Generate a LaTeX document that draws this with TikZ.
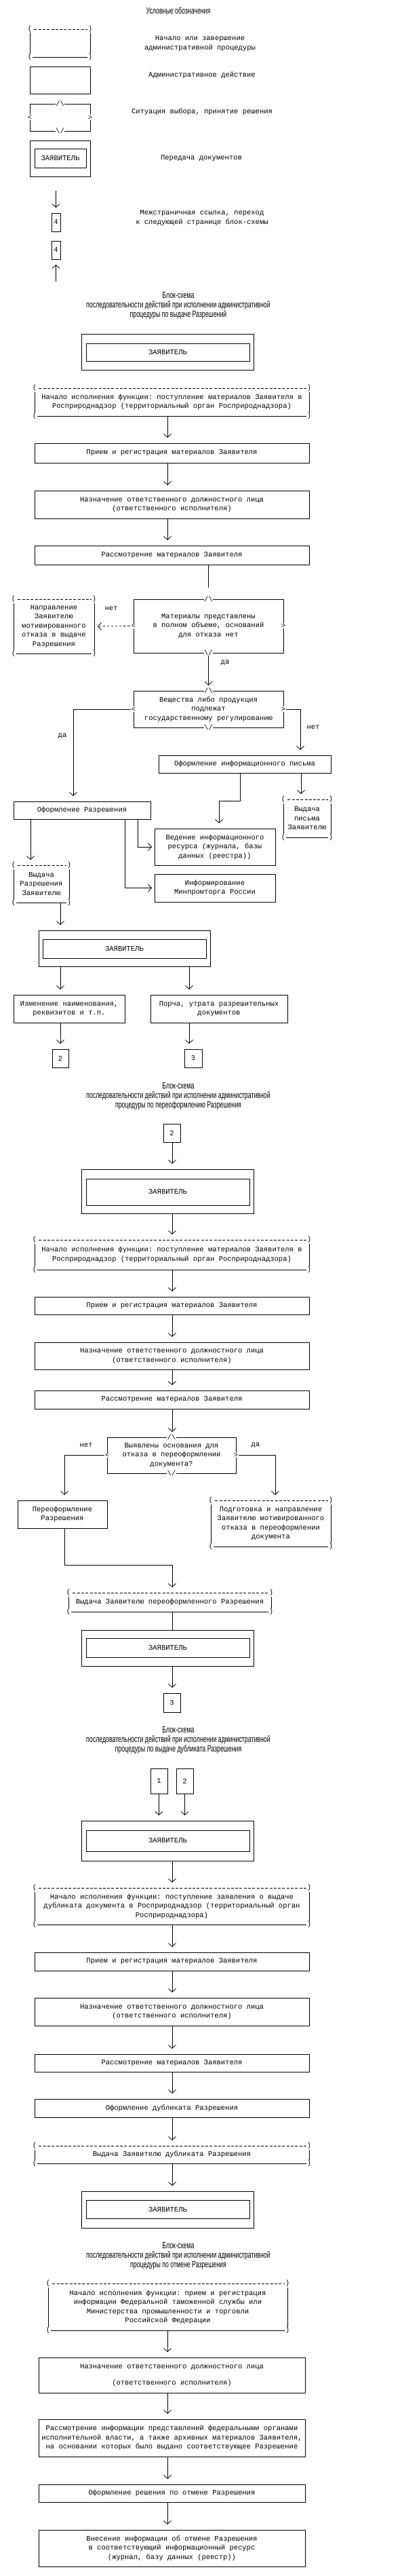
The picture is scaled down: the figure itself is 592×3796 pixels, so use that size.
\documentclass[tikz,border=0pt]{standalone}
\usepackage{fontspec}
\setmainfont{Liberation Serif}
\setmonofont{Liberation Mono}
\newfontfamily\ttlfont[FakeStretch=0.66]{Liberation Sans}
\usetikzlibrary{arrows.meta}
\newcommand{\mono}{\ttfamily\fontsize{10.5}{13.5}\selectfont}
\newcommand{\ttl}{\ttlfont\fontsize{13.3}{14}\selectfont}
\newcommand{\bs}{\textbackslash}

\begin{document}
\begin{tikzpicture}[x=1pt,y=-1pt,line width=0.8pt,
  sz/.style 2 args={minimum width=#1,minimum height=#2},
  actbox/.style={draw,rectangle,inner sep=0pt,outer sep=0pt,align=center,font=\mono},
  termbox/.style={rectangle,inner sep=0pt,outer sep=0pt,align=center,font=\mono},
  qbox/.style={draw,rectangle,inner sep=0pt,outer sep=0pt,align=center,font=\mono},
  docout/.style={draw,rectangle,inner sep=0pt,outer sep=0pt},
  docin/.style={draw,rectangle,inner sep=0pt,outer sep=0pt,font=\mono},
  refbox/.style={draw,rectangle,inner sep=0pt,outer sep=0pt,font=\mono},
  glyph/.style={fill=white,inner sep=0.6pt,font=\mono},
  lbl/.style={inner sep=0pt,align=center,font=\mono},
  ttlnode/.style={inner sep=0pt,align=center,font=\ttl},
  arr/.style={-{Straight Barb[length=5pt,width=11pt]},shorten >=8pt}]
\fill[white] (0,0) rectangle (592,3796);
\useasboundingbox (0,0) rectangle (592,3796);

% legend
\node[ttlnode] (lgtitle) at (263,16) {Условные обозначения};
\node[termbox,sz={89}{41}] (lgT) at (88.5,63.5) {};
\node[lbl] (lgTl) at (295,64) {Начало или завершение\\административной процедуры};
\node[actbox,sz={89}{40}] (lgA) at (88.5,118) {};
\node[lbl] (lgAl) at (298,111) {Административное действие};
\node[qbox,sz={89}{40}] (lgD) at (88.5,173) {};
\node[lbl] (lgDl) at (298,165) {Ситуация выбора, принятие решения};
\node[docout,sz={89}{53}] (lgZ) at (88.5,233.5) {};
\node[docin,sz={76}{28}] (lgZi) at (89,233) {ЗАЯВИТЕЛЬ};
\node[lbl] (lgZl) at (297,233) {Передача документов};
\node[refbox,sz={13}{27}] (lg4a) at (82.5,327.5) {4};
\node[refbox,sz={13}{27}] (lg4b) at (82.5,368.5) {4};
\node[lbl] (lg4l) at (298,321) {Межстраничная ссылка, переход\\к следующей странице блок-схемы};
\coordinate (lgp) at (82.5,281);
\coordinate (lgq) at (82.5,415);
\draw[arr] (lgp) -- (lg4a.north);
\draw[arr] (lgq) -- (lg4b.south);

% issue of permits
\node[ttlnode] (ttl1) at (263,450) {Блок-схема\\последовательности действий при исполнении административной\\процедуры по выдаче Разрешений};
\node[docout,sz={254}{53}] (z1) at (247,518.5) {};
\node[docin,sz={241}{26}] (z1i) at (247.5,519) {ЗАЯВИТЕЛЬ};
\node[termbox,sz={405}{41}] (n1) at (253.5,592.5) {Начало исполнения функции: поступление материалов Заявителя в\\Росприроднадзор (территориальный орган Росприроднадзора)};
\node[actbox,sz={405}{29}] (p1) at (253.5,667.5) {Прием и регистрация материалов Заявителя};
\node[actbox,sz={405}{41}] (a1) at (253.5,743.5) {Назначение ответственного должностного лица\\(ответственного исполнителя)};
\node[actbox,sz={405}{28}] (r1) at (253.5,818) {Рассмотрение материалов Заявителя};
\node[qbox,sz={221}{79}] (q1) at (307.5,922.5) {Материалы представлены\\в полном объеме, оснований\\для отказа нет};
\node[termbox,sz={119}{80}] (t1) at (79.5,923) {Направление\\Заявителю\\мотивированного\\отказа в выдаче\\Разрешения};
\node[qbox,sz={221}{54}] (q2) at (307.5,1045) {Вещества либо продукция\\подлежат\\государственному регулированию};
\node[actbox,sz={254}{26}] (inf) at (361,1126) {Оформление информационного письма};
\node[actbox,sz={202}{26}] (frm) at (121,1194) {Оформление Разрешения};
\node[termbox,sz={70}{56}] (vid) at (453,1206) {Выдача\\письма\\Заявителю};
\node[actbox,sz={178}{54}] (ved) at (317,1248) {Ведение информационного\\ресурса (журнала, базы\\данных (реестра))};
\node[actbox,sz={178}{41}] (inm) at (317,1308.5) {Информирование\\Минпромторга России};
\node[termbox,sz={82}{55}] (vr) at (61,1302.5) {Выдача\\Разрешения\\Заявителю};
\node[docout,sz={253}{53}] (z2) at (183.5,1397.5) {};
\node[docin,sz={241}{28}] (z2i) at (183.5,1398) {ЗАЯВИТЕЛЬ};
\node[actbox,sz={164}{41}] (izm) at (102,1486.5) {Изменение наименования,\\реквизитов и т.п.};
\node[actbox,sz={202}{41}] (por) at (323,1486.5) {Порча, утрата разрешительных\\документов};
\node[refbox,sz={24}{27}] (c2) at (89,1559.5) {2};
\node[refbox,sz={26}{27}] (c3) at (285,1559.5) {3};

\coordinate (m1) at (247,0);
\draw[arr] (m1 |- n1.south) -- (m1 |- p1.north);
\draw[arr] (m1 |- p1.south) -- (m1 |- a1.north);
\draw[arr] (m1 |- a1.south) -- (m1 |- r1.north);
\draw[shorten >=17pt] (q1.north |- r1.south) -- (q1.north);
\draw[arr,dashed,shorten >=5pt] (q1.west) -- (t1.east);
\node[lbl] (no1) at (164,897) {нет};
\draw[arr] (q1.south) -- (q2.north);
\node[lbl] (yes1) at (332,977) {да};
\coordinate (k1) at (108,0);
\coordinate (k2) at (443,0);
\draw[arr] (q2.west) -| (k1 |- frm.north);
\node[lbl] (yes2) at (92,1085) {да};
\draw[arr] (q2.east) -| (k2 |- inf.north);
\node[lbl] (no2) at (462,1072) {нет};
\coordinate (k3) at (354,1180);
\coordinate (k4) at (323,0);
\coordinate (k5) at (444,0);
\draw[arr] (k3 |- inf.south) -- (k3) -| (k4 |- ved.north);
\draw[arr] (k5 |- inf.south) -- (k5 |- vid.north);
\coordinate (k6) at (45,0);
\coordinate (k7) at (203,0);
\coordinate (k8) at (184,0);
\draw[arr] (k6 |- frm.south) -- (k6 |- vr.north);
\draw[arr,shorten >=4pt] (k7 |- frm.south) |- (ved.west);
\draw[arr,shorten >=4pt] (k8 |- frm.south) |- (inm.west);
\coordinate (k9) at (89,0);
\coordinate (k10) at (279,0);
\draw[arr] (k9 |- vr.south) -- (k9 |- z2.north);
\draw[arr] (k9 |- z2.south) -- (k9 |- izm.north);
\draw[arr] (k10 |- z2.south) -- (k10 |- por.north);
\draw[arr] (k9 |- izm.south) -- (k9 |- c2.north);
\draw[arr] (k10 |- por.south) -- (k10 |- c3.north);

% re-issue
\node[ttlnode] (ttl2) at (263,1615) {Блок-схема\\последовательности действий при исполнении административной\\процедуры по переоформлению Разрешения};
\node[refbox,sz={25}{27}] (d2) at (253.5,1669.5) {2};
\node[docout,sz={254}{65}] (z3) at (247,1755.5) {};
\node[docin,sz={241}{39}] (z3i) at (247.5,1756.5) {ЗАЯВИТЕЛЬ};
\node[termbox,sz={405}{44}] (n2) at (253.5,1849) {Начало исполнения функции: поступление материалов Заявителя в\\Росприроднадзор (территориальный орган Росприроднадзора)};
\node[actbox,sz={405}{26}] (p2) at (253.5,1924) {Прием и регистрация материалов Заявителя};
\node[actbox,sz={405}{40}] (a2) at (253.5,1998) {Назначение ответственного должностного лица\\(ответственного исполнителя)};
\node[actbox,sz={405}{27}] (r2) at (253.5,2062.5) {Рассмотрение материалов Заявителя};
\node[qbox,sz={190}{53}] (q3) at (253,2144.5) {Выявлены основания для\\отказа в переоформлении\\документа?};
\node[actbox,sz={132}{41}] (pr) at (92,2231.5) {Переоформление\\Разрешения};
\node[termbox,sz={177}{68}] (ot) at (399.5,2245) {Подготовка и направление\\Заявителю мотивированного\\отказа в переоформлении\\документа};
\node[termbox,sz={299}{28}] (vp) at (250.5,2361) {Выдача Заявителю переоформленного Разрешения};
\node[docout,sz={254}{53}] (z4) at (247,2428.5) {};
\node[docin,sz={241}{28}] (z4i) at (247.5,2428) {ЗАЯВИТЕЛЬ};
\node[refbox,sz={25}{28}] (e3) at (253.5,2509) {3};

\coordinate (m2) at (254,0);
\foreach \u/\v in {d2/z3,z3/n2,n2/p2,p2/a2,a2/r2,r2/q3}
  \draw[arr] (m2 |- \u.south) -- (m2 |- \v.north);
\coordinate (k12) at (95,0);
\coordinate (k13) at (406,0);
\draw[arr] (q3.west) -| (k12 |- pr.north);
\node[lbl] (no3) at (127,2130) {нет};
\draw[arr] (q3.east) -| (k13 |- ot.north);
\node[lbl] (yes3) at (377,2130) {да};
\coordinate (b1) at (95,2306);
\draw[arr] (b1 |- pr.south) -- (b1) -| (m2 |- vp.north);
\draw (m2 |- vp.south) -- (m2 |- z4.north);
\draw[arr] (m2 |- z4.south) -- (m2 |- e3.north);

% duplicate
\node[ttlnode] (ttl3) at (263,2564) {Блок-схема\\последовательности действий при исполнении административной\\процедуры по выдаче дубликата Разрешения};
\node[refbox,sz={25}{37}] (e1) at (234.5,2624.5) {1};
\node[refbox,sz={25}{37}] (e2) at (272.5,2624.5) {2};
\node[docout,sz={254}{59}] (z5) at (247,2712.5) {};
\node[docin,sz={241}{31}] (z5i) at (247.5,2712.5) {ЗАЯВИТЕЛЬ};
\node[termbox,sz={405}{54}] (n3) at (253.5,2809) {Начало исполнения функции: поступление заявления о выдаче\\дубликата документа в Росприроднадзор (территориальный орган\\Росприроднадзора)};
\node[actbox,sz={405}{27}] (p3) at (253.5,2890.5) {Прием и регистрация материалов Заявителя};
\node[actbox,sz={405}{41}] (a3) at (253.5,2964.5) {Назначение ответственного должностного лица\\(ответственного исполнителя)};
\node[actbox,sz={405}{26}] (r3) at (253.5,3040) {Рассмотрение материалов Заявителя};
\node[actbox,sz={405}{27}] (f3) at (253.5,3106.5) {Оформление дубликата Разрешения};
\node[termbox,sz={405}{26}] (v3) at (253.5,3175) {Выдача Заявителю дубликата Разрешения};
\node[docout,sz={254}{54}] (z6) at (247,3256) {};
\node[docin,sz={241}{27}] (z6i) at (247.5,3255.5) {ЗАЯВИТЕЛЬ};

\draw[arr] (e1.south) -- (e1.south |- z5.north);
\draw[arr] (e2.south) -- (e2.south |- z5.north);
\foreach \u/\v in {z5/n3,n3/p3,p3/a3,a3/r3,r3/f3,f3/v3,v3/z6}
  \draw[arr] (m2 |- \u.south) -- (m2 |- \v.north);

% cancellation
\node[ttlnode] (ttl4) at (263,3324) {Блок-схема\\последовательности действий при исполнении административной\\процедуры по отмене Разрешения};
\node[termbox,sz={353}{69}] (n4) at (247.5,3399.5) {Начало исполнения функции: прием и регистрация\\информации Федеральной таможенной службы или\\Министерства промышленности и торговли\\Российской Федерации};
\node[actbox,sz={393}{52}] (a4) at (253.5,3500) {Назначение ответственного должностного лица\\[11pt](ответственного исполнителя)};
\node[actbox,sz={393}{55}] (rs4) at (253.5,3592.5) {Рассмотрение информации представлений федеральными органами\\исполнительной власти, а также архивных материалов Заявителя,\\на основании которых было выдано соответствующее Разрешение};
\node[actbox,sz={393}{26}] (f4) at (253.5,3674) {Оформление решения по отмене Разрешения};
\node[actbox,sz={393}{54}] (vn4) at (253.5,3755) {Внесение информации об отмене Разрешения\\в соответствующий информационный ресурс\\(журнал, базу данных (реестр))};

\coordinate (m4) at (247,0);
\foreach \u/\v in {n4/a4,a4/rs4,rs4/f4,f4/vn4}
  \draw[arr] (m4 |- \u.south) -- (m4 |- \v.north);

% terminal and decision outlines
\foreach \t in {lgT,n1,t1,vid,vr,n2,ot,vp,n3,v3,n4} {
  \draw[dash pattern=on 4pt off 2.3pt] (\t.north west) -- (\t.north east);
  \draw (\t.north west) -- (\t.south west) -- (\t.south east) -- (\t.north east);
  \node[glyph] at (\t.north west) {(};
  \node[glyph] at (\t.north east) {)};
  \node[glyph] at (\t.south west) {(};
  \node[glyph] at (\t.south east) {)};
}
\foreach \q in {lgD,q1,q2,q3} {
  \node[glyph] at (\q.north) {/\bs};
  \node[glyph] at (\q.south) {\bs/};
  \node[glyph] at (\q.west) {<};
  \node[glyph] at (\q.east) {>};
}
\end{tikzpicture}
\end{document}
